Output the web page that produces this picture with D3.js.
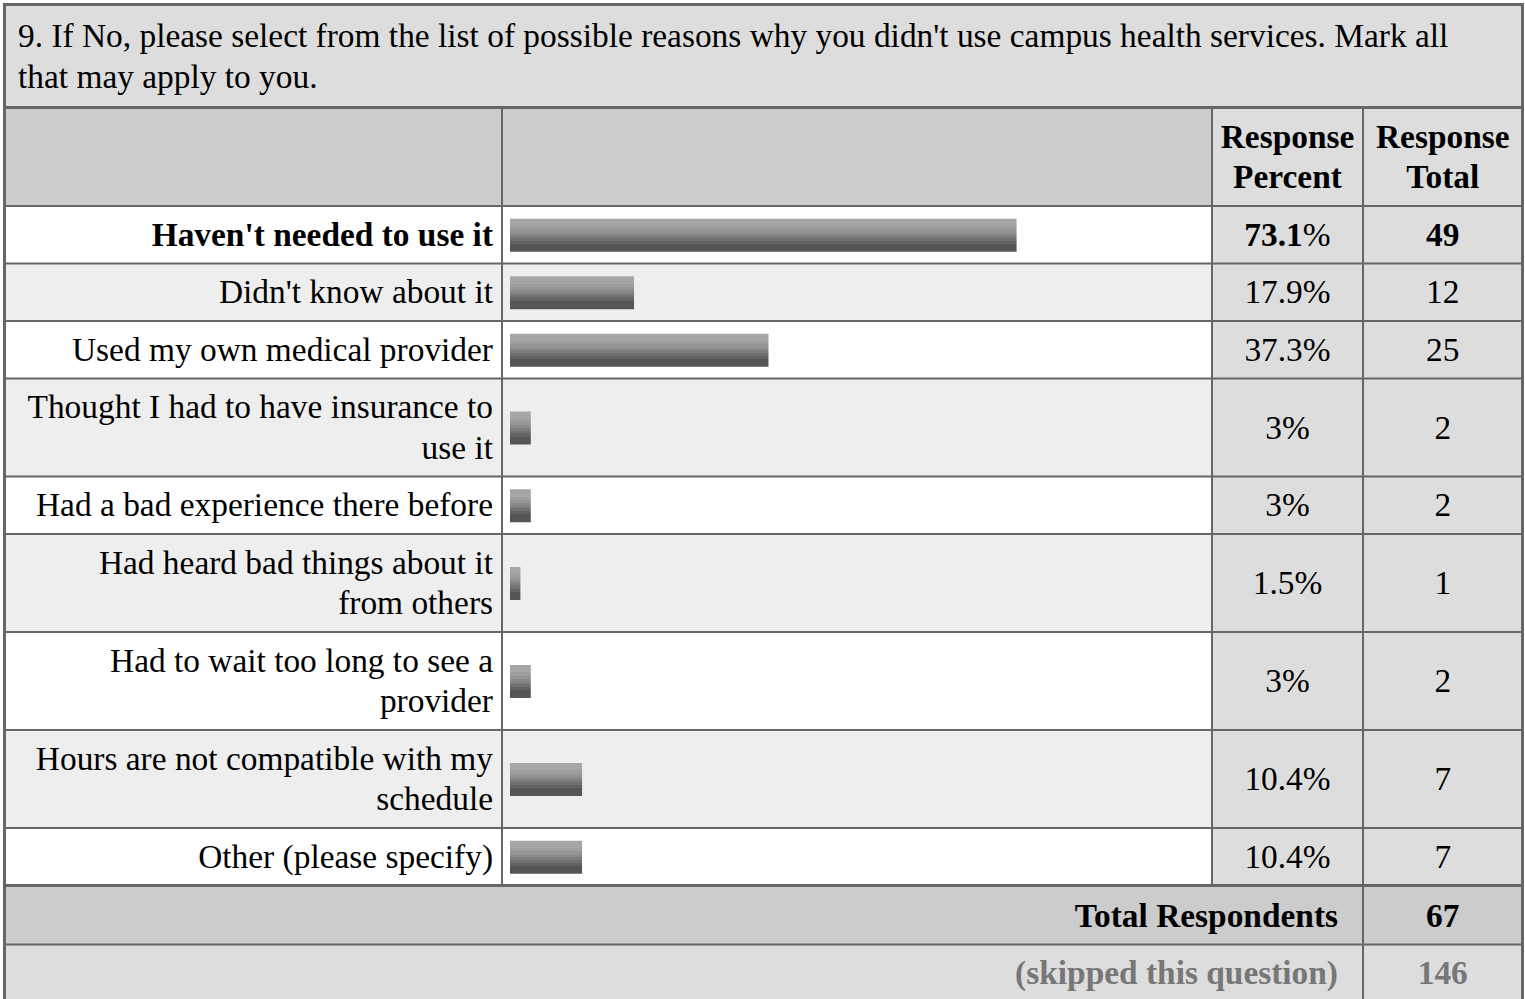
<!DOCTYPE html>
<html>
<head>
<meta charset="utf-8">
<script src="https://cdn.jsdelivr.net/npm/d3@7"></script>
<style>
  html, body { margin: 0; padding: 0; background: #fff; }
  svg { display: block; }
</style>
</head>
<body>
<script>
// ---------- data ----------
const title = "9. If No, please select from the list of possible reasons why you didn't use campus health services. Mark all that may apply to you.";
const headerPercent = ["Response", "Percent"];
const headerTotal = ["Response", "Total"];
const categories = [
  "Haven't needed to use it",
  "Didn't know about it",
  "Used my own medical provider",
  "Thought I had to have insurance to use it",
  "Had a bad experience there before",
  "Had heard bad things about it from others",
  "Had to wait too long to see a provider",
  "Hours are not compatible with my schedule",
  "Other (please specify)"
];
const percents = [73.1, 17.9, 37.3, 3, 3, 1.5, 3, 10.4, 10.4];
const counts = [49, 12, 25, 2, 2, 1, 2, 7, 7];
const highlighted = [true, false, false, false, false, false, false, false, false];
const totalLabel = "Total Respondents";
const totalRespondents = 67;
const skippedLabel = "(skipped this question)";
const skippedCount = 146;

// ---------- layout ----------
const W = 1525, H = 999;
const FONT = "Liberation Serif", FS = 33.4;
const xL = 4.5, xBar = 502, xPct = 1212, xTot = 1363, xR = 1522.5;
const lineH = 40.5, rowPad = 17;
const borderC = "#666";

const svg = d3.select("body").append("svg").attr("width", W).attr("height", H)
  .attr("font-family", FONT).attr("font-size", FS);

const defs = svg.append("defs");
const grad = defs.append("linearGradient").attr("id", "barGrad")
  .attr("x1", 0).attr("y1", 0).attr("x2", 0).attr("y2", 1);
const bands = [["#a6a6a6",0,0.22],["#9e9e9e",0.22,0.32],["#959595",0.32,0.42],["#8a8a8a",0.42,0.5],
               ["#7d7d7d",0.5,0.58],["#707070",0.58,0.66],["#636363",0.66,0.76],["#555555",0.76,1]];
bands.forEach(([c,a,b]) => {
  grad.append("stop").attr("offset", a).attr("stop-color", c);
  grad.append("stop").attr("offset", b).attr("stop-color", c);
});

// measuring helper
const meas = svg.append("text").attr("x", -9999).attr("y", -9999)
  .attr("font-family", FONT).attr("font-size", FS);
function wrap(str, maxW, weight) {
  meas.attr("font-weight", weight || "normal");
  const words = str.split(" ");
  const lines = [];
  let cur = "";
  words.forEach(w => {
    const t = cur ? cur + " " + w : w;
    meas.text(t);
    if (meas.node().getComputedTextLength() > maxW && cur) { lines.push(cur); cur = w; }
    else cur = t;
  });
  if (cur) lines.push(cur);
  return lines;
}

const gBg = svg.append("g"), gMarks = svg.append("g"), gText = svg.append("g"), gLines = svg.append("g");

function textLines(g, lines, x, yCenter, anchor, opts) {
  const n = lines.length;
  lines.forEach((ln, i) => {
    const t = g.append("text")
      .attr("x", x)
      .attr("y", yCenter + (i - (n - 1) / 2) * lineH + 11)
      .attr("text-anchor", anchor)
      .attr("font-family", FONT).attr("font-size", FS)
      .attr("font-weight", opts && opts.bold ? "bold" : "normal")
      .attr("fill", opts && opts.color ? opts.color : "#000");
    if (typeof ln === "string") t.text(ln);
    else ln.forEach(p => t.append("tspan").attr("font-weight", p.bold ? "bold" : "normal").text(p.t));
  });
}

// Title
const titleTop = 4.5, titleBottom = 107.5;
gBg.append("rect").attr("x", xL).attr("y", titleTop).attr("width", xR - xL).attr("height", titleBottom - titleTop).attr("fill", "#dddddd");
const titleLines = wrap(title, 1470);
titleLines.forEach((ln, i) => {
  gText.append("text").attr("x", 18).attr("y", 47 + i * lineH)
    .attr("font-family", FONT).attr("font-size", FS).text(ln);
});

// Header
const headTop = titleBottom, headBottom = 206;
gBg.append("rect").attr("x", xL).attr("y", headTop).attr("width", xPct - xL).attr("height", headBottom - headTop).attr("fill", "#cccccc");
gBg.append("rect").attr("x", xPct).attr("y", headTop).attr("width", xR - xPct).attr("height", headBottom - headTop).attr("fill", "#dddddd");
const headC = (headTop + headBottom) / 2;
textLines(gText, headerPercent, (xPct + xTot) / 2, headC, "middle", {bold: true});
textLines(gText, headerTotal, (xTot + xR) / 2, headC, "middle", {bold: true});

// Rows
const labelLines = categories.map((c, i) => wrap(c, 467, highlighted[i] ? "bold" : "normal"));
const rowTops = [];
let y = headBottom;
labelLines.forEach(l => { rowTops.push(y); y += l.length * lineH + rowPad; });
const rowsBottom = y;

const x = d3.scaleLinear().domain([0, 100]).range([0, 693]);
const barX0 = 510, barH = 33;

categories.forEach((c, i) => {
  const top = rowTops[i];
  const bottom = i < categories.length - 1 ? rowTops[i + 1] : rowsBottom;
  const cy = (top + bottom) / 2;
  gBg.append("rect").attr("x", xL).attr("y", top).attr("width", xPct - xL).attr("height", bottom - top)
    .attr("fill", i % 2 === 0 ? "#ffffff" : "#eeeeee");
  gBg.append("rect").attr("x", xPct).attr("y", top).attr("width", xR - xPct).attr("height", bottom - top)
    .attr("fill", "#dddddd");
  textLines(gText, labelLines[i], xBar - 9, cy, "end", {bold: highlighted[i]});
  gMarks.append("rect").attr("x", barX0).attr("y", cy - barH / 2 + 0.5)
    .attr("width", x(percents[i])).attr("height", barH).attr("fill", "url(#barGrad)");
  const pctParts = highlighted[i] ? [[{t: String(percents[i]), bold: true}, {t: "%", bold: false}]] : [percents[i] + "%"];
  textLines(gText, pctParts, (xPct + xTot) / 2, cy, "middle");
  textLines(gText, [String(counts[i])], (xTot + xR) / 2, cy, "middle", {bold: highlighted[i]});
});

// Total & skipped rows
const totTop = rowsBottom, totBottom = totTop + 59, skipBottom = 1004;
gBg.append("rect").attr("x", xL).attr("y", totTop).attr("width", xTot - xL).attr("height", totBottom - totTop).attr("fill", "#cccccc");
gBg.append("rect").attr("x", xTot).attr("y", totTop).attr("width", xR - xTot).attr("height", totBottom - totTop).attr("fill", "#cccccc");
gBg.append("rect").attr("x", xL).attr("y", totBottom).attr("width", xR - xL).attr("height", skipBottom - totBottom).attr("fill", "#dddddd");
textLines(gText, [totalLabel], xTot - 25, (totTop + totBottom) / 2 + 1, "end", {bold: true});
textLines(gText, [String(totalRespondents)], (xTot + xR) / 2, (totTop + totBottom) / 2 + 1, "middle", {bold: true});
textLines(gText, [skippedLabel], xTot - 25, (totBottom + skipBottom) / 2 - 1, "end", {bold: true, color: "#777777"});
textLines(gText, [String(skippedCount)], (xTot + xR) / 2, (totBottom + skipBottom) / 2 - 1, "middle", {bold: true, color: "#777777"});

// Grid lines
function hline(yy, w) { gLines.append("line").attr("x1", xL).attr("x2", xR).attr("y1", yy).attr("y2", yy).attr("stroke", borderC).attr("stroke-width", w); }
function vline(xx, y1, y2, w) { gLines.append("line").attr("x1", xx).attr("x2", xx).attr("y1", y1).attr("y2", y2).attr("stroke", borderC).attr("stroke-width", w); }
hline(titleBottom, 3);
hline(headBottom, 2);
rowTops.slice(1).forEach(t => hline(t, 2));
hline(totTop, 3);
hline(totBottom, 2);
vline(xBar, headTop, totTop, 2);
vline(xPct, headTop, totTop, 2);
vline(xTot, headTop, skipBottom, 2);
gLines.append("rect").attr("x", xL).attr("y", titleTop).attr("width", xR - xL).attr("height", skipBottom - titleTop)
  .attr("fill", "none").attr("stroke", borderC).attr("stroke-width", 3);
meas.remove();
</script>
</body>
</html>
